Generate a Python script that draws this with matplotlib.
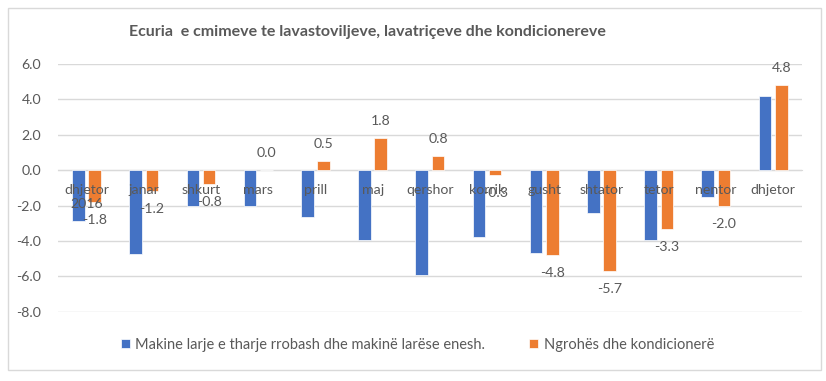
import matplotlib
matplotlib.use("Agg")
import matplotlib.pyplot as plt
from matplotlib.patches import Rectangle
import numpy as np

categories = ["dhjetor\n2016", "janar", "shkurt", "mars", "prill", "maj", "qershor",
              "korrik", "gusht", "shtator", "tetor", "nentor", "dhjetor"]
washers = [-2.9, -4.75, -2.0, -2.05, -2.65, -3.95, -5.95, -3.75, -4.7, -2.4, -3.95, -1.5, 4.2]
heaters = [-1.8, -1.2, -0.8, 0.0, 0.5, 1.8, 0.8, -0.3, -4.8, -5.7, -3.3, -2.0, 4.8]
series_names = ["Makine larje e tharje rrobash dhe makinë larëse enesh.",
                "Ngrohës dhe kondicionerë"]
title = "Ecuria  e cmimeve te lavastoviljeve, lavatriçeve dhe kondicionereve"
yticks = [-8, -6, -4, -2, 0, 2, 4, 6]

BLUE = "#4472C4"
ORANGE = "#ED7D31"
TXT = "#595959"
GRID = "#D9D9D9"

plt.rcParams['font.family'] = ['Lato', 'DejaVu Sans']

fig = plt.figure(figsize=(8.26, 3.81), dpi=100)
W, H = 826, 381
ax = fig.add_axes([58 / W, 1 - 311.7 / H, (801.7 - 58) / W, (311.7 - 64) / H])

x = np.arange(len(categories))
bw = 0.22
off = 0.142
ax.bar(x - off, washers, bw, color=BLUE, edgecolor="white", linewidth=0.5, zorder=2,
       label=series_names[0])
ax.bar(x + off, heaters, bw, color=ORANGE, edgecolor="white", linewidth=0.5, zorder=2,
       label=series_names[1])

for xi, v in zip(x, heaters):
    dy = 17 if v >= 0 else -18
    ax.annotate(f"{v:.1f}", xy=(xi + off, v), xytext=(0, dy * 72 / 100),
                textcoords="offset points", ha="center", va="center",
                fontsize=10.2, color=TXT, zorder=5)

ax.set_xlim(-0.5, len(categories) - 0.5)
ax.set_ylim(-8, 6)
ax.set_yticks(yticks)
ax.set_yticklabels([f"{t:.1f}" for t in yticks])
ax.yaxis.grid(True, color=GRID, linewidth=1)
ax.set_axisbelow(True)
for s in ["top", "right", "left"]:
    ax.spines[s].set_visible(False)
ax.spines["bottom"].set_position(("data", 0))
ax.spines["bottom"].set_color(GRID)
ax.spines["bottom"].set_zorder(1)
ax.set_xticks(x)
ax.set_xticklabels(categories, fontsize=10.2, color=TXT, linespacing=1.15)
ax.tick_params(axis="x", length=0, pad=10)
ax.tick_params(axis="y", length=0, pad=12, labelsize=10.2, labelcolor=TXT)
ax.xaxis.set_zorder(4)

fig.text(367 / W, 1 - 32 / H, title, ha="center", va="center", fontsize=11.5,
         fontweight="bold", color=TXT)

leg = fig.legend(loc="center", bbox_to_anchor=(417.5 / W, 1 - 345 / H), ncol=2,
                 frameon=False, fontsize=10.5, handlelength=0.6, handleheight=0.6,
                 handletextpad=0.4, columnspacing=3.0, labelcolor=TXT)

fig.patches.append(Rectangle((8 / W, 1 - 370 / H), (821 - 8) / W, (370 - 8) / H,
                             transform=fig.transFigure, fill=False,
                             edgecolor=GRID, linewidth=1))

fig.savefig("out.png", dpi=100, facecolor="white")
